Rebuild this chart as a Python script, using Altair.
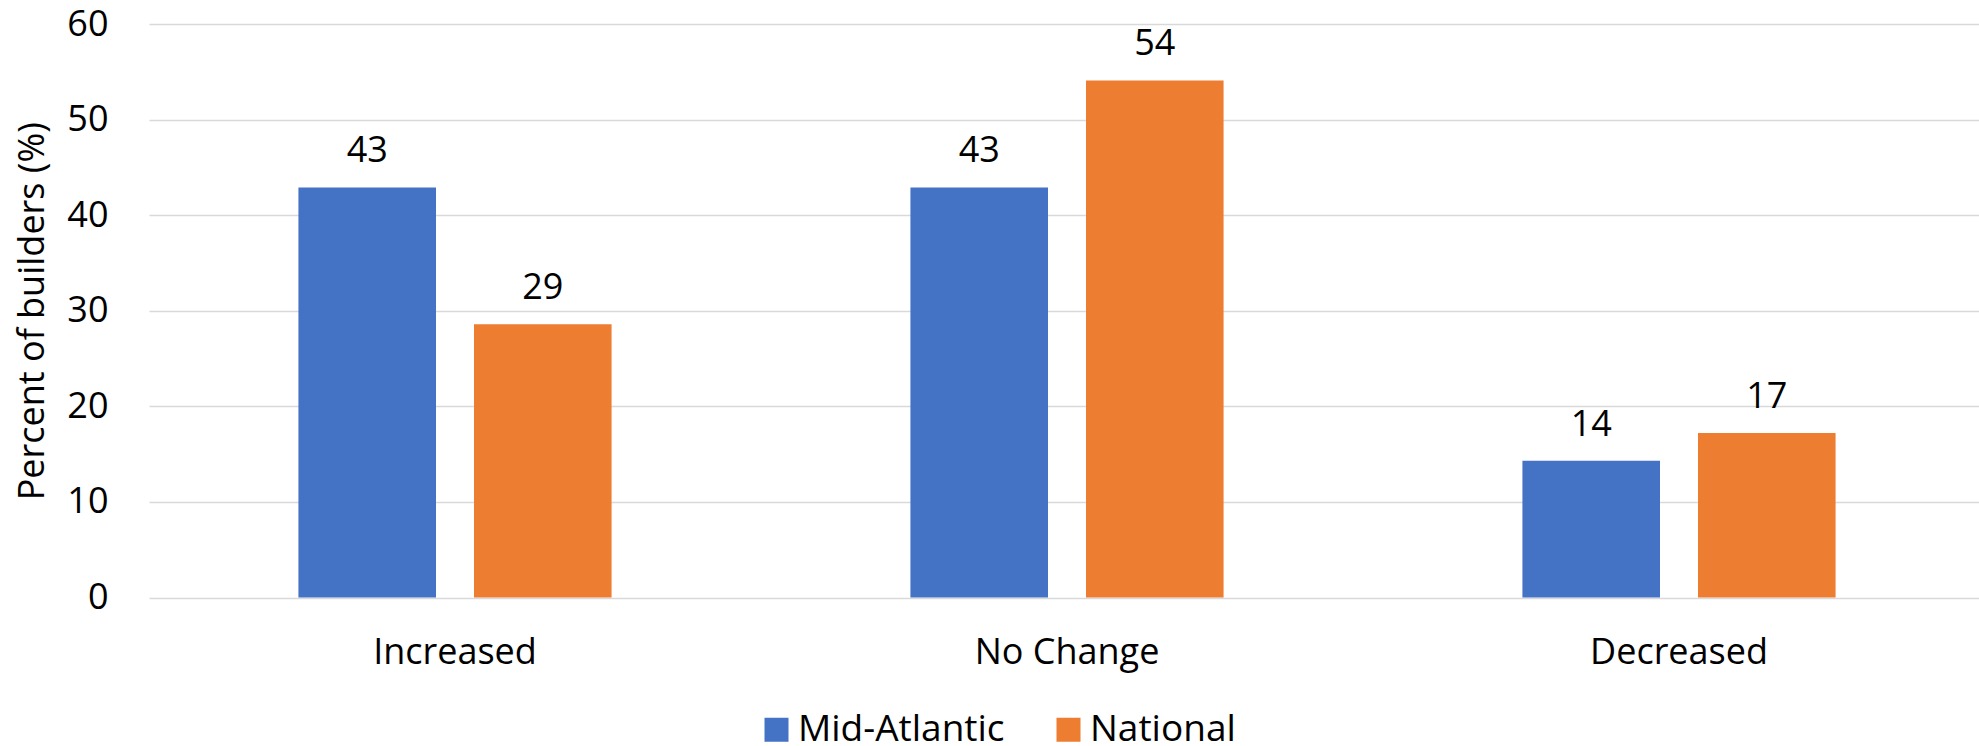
import altair as alt
import pandas as pd

categories = ["Increased", "No Change", "Decreased"]
series = ["Mid-Atlantic", "National"]
mid_atlantic = [42.9, 42.9, 14.3]
national = [28.6, 54.1, 17.2]
y_ticks = [0, 10, 20, 30, 40, 50, 60]
colors = ["#4472C4", "#ED7D31"]

rows = []
for i, c in enumerate(categories):
    rows.append({"category": c, "series": series[0], "value": mid_atlantic[i]})
    rows.append({"category": c, "series": series[1], "value": national[i]})
df = pd.DataFrame(rows)

FONT = "Open Sans"

x_enc = alt.X(
    "category:N",
    sort=categories,
    scale=alt.Scale(range=[0, 1836], paddingInner=0, paddingOuter=0),
    axis=alt.Axis(
        title=None, labelAngle=0, domain=False, ticks=False, grid=False,
        labelFontSize=36, labelFont=FONT, labelColor="#000000", labelPadding=38,
        labelLimit=0,
    ),
)
xoff_enc = alt.XOffset(
    "series:N", sort=series,
    scale=alt.Scale(paddingInner=0.2165, paddingOuter=0.851),
)
y_enc = alt.Y(
    "value:Q",
    scale=alt.Scale(domain=[0, 60], nice=False),
    axis=alt.Axis(
        title="Percent of builders (%)", values=y_ticks, domain=False, ticks=False,
        grid=True, gridColor="#D9D9D9", gridWidth=1.5,
        labelFontSize=36, labelFont=FONT, labelColor="#000000", labelPadding=41,
        titleFontSize=36, titleFont=FONT, titleFontWeight="normal",
        titleColor="#000000", titlePadding=15, titleLimit=0,
    ),
)

base = alt.Chart(df).encode(x=x_enc, xOffset=xoff_enc, y=y_enc)

bars = base.mark_bar().encode(
    color=alt.Color(
        "series:N", sort=series,
        scale=alt.Scale(domain=series, range=colors),
        legend=alt.Legend(
            title=None, orient="none", direction="horizontal",
            legendX=609, legendY=687, symbolType="square", symbolSize=576,
            symbolStrokeWidth=0, labelFontSize=37, labelFont=FONT,
            labelColor="#000000", labelOffset=3, columnPadding=45, padding=0,
            labelLimit=0,
        ),
    )
)

labels = base.mark_text(
    baseline="alphabetic", dy=-25, fontSize=36, font=FONT, color="#000000"
).encode(text=alt.Text("value:Q", format=".0f"))

chart = (
    alt.layer(bars, labels)
    .properties(
        width=1829, height=573.5,
        autosize=alt.AutoSizeParams(type="none"),
        padding={"left": 149, "top": 24, "right": 1, "bottom": 148.5},
        background="white",
    )
    .configure_view(stroke=None, strokeWidth=0)
)

chart.save("out.html", embed_options={"renderer": "svg", "actions": False})
